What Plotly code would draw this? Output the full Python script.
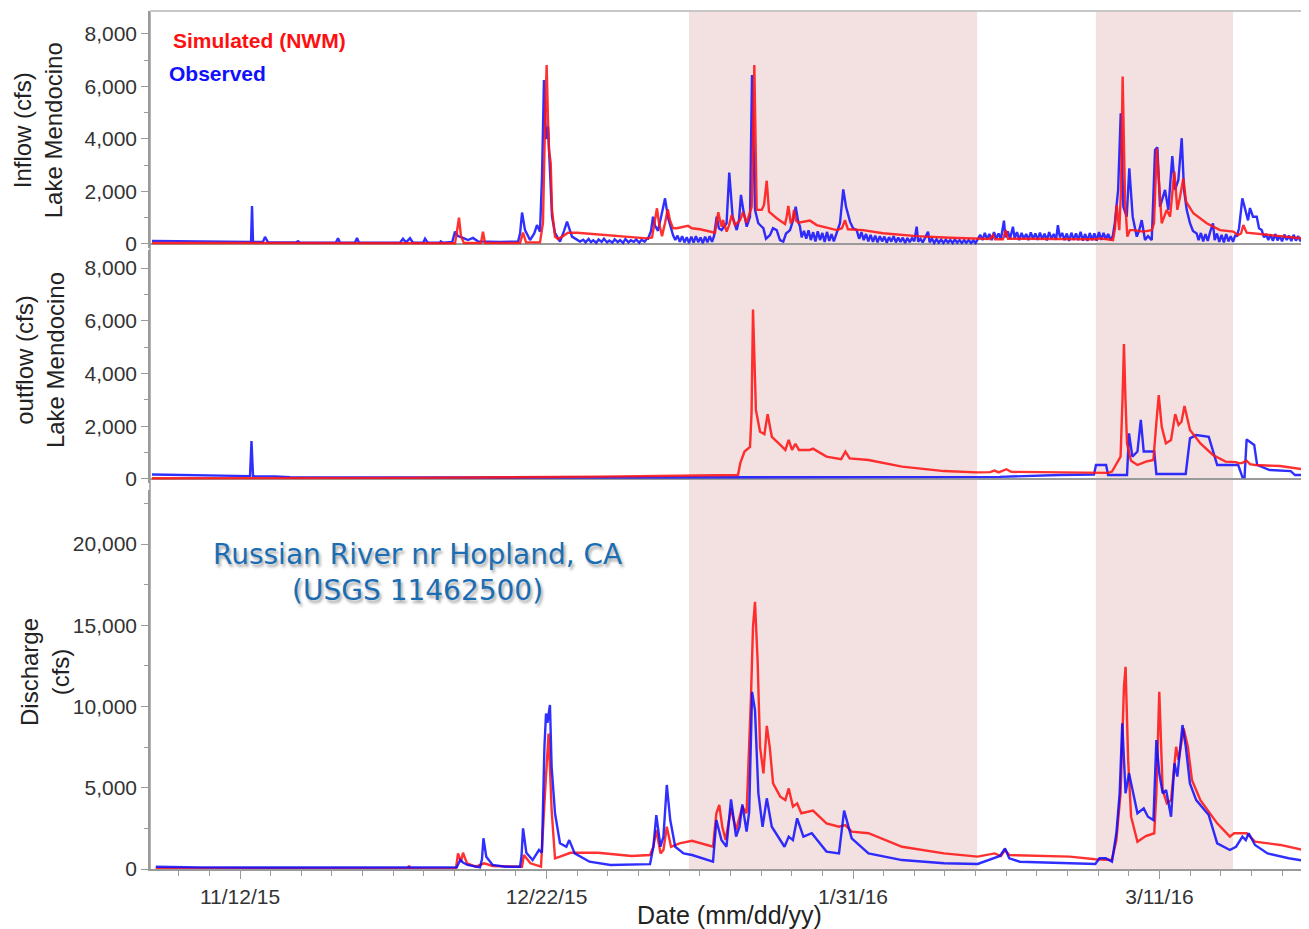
import plotly.graph_objects as go
import pandas as pd

# ---------------- data (time = days since 2015-11-01, flow in cfs) ----------------
BASE = pd.Timestamp("2015-11-01")

TICK_DAYS = [11, 51, 91, 131]
TICK_TEXT = ["11/12/15", "12/22/15", "1/31/16", "3/11/16"]
X_RANGE_DAYS = [-0.745, 150.51]
SHADE_START = [69.6, 122.7]
SHADE_END = [107.2, 140.6]

# Panel 1: Lake Mendocino inflow (observed, noisy gauge record)
INF_OBS_DAY = [
    -0.48, 5.78, 12.05, 12.44, 12.57, 12.70, 14.0, 14.26, 14.66, 18.3, 18.57, 18.83, 23.5, 23.79, 24.05,
    26.0, 26.27, 26.53, 31.88, 32.27, 32.67, 33.19, 33.58, 34.9, 35.15, 35.5, 37.1, 37.2, 37.5, 38.7,
    39.06, 39.45, 40.1, 40.75, 41.4, 42.05, 44.92, 47.3, 47.55, 47.81, 48.2, 48.85, 49.4, 49.76, 50.15,
    50.41, 50.67, 50.93, 51.2, 51.46, 51.72, 52.11, 52.76, 53.29, 53.68, 54.33, 55.37,
    55.8, 56.1, 56.5, 56.8, 57.1, 57.5, 57.8, 58.2, 58.5, 58.9, 59.2, 59.6, 59.9, 60.3, 60.6, 61.0,
    61.3, 61.7, 62.0, 62.4, 62.7, 63.1, 63.4, 63.8, 64.1, 64.25,
    64.64, 64.9, 65.16, 65.55, 66.08, 66.47, 66.86, 67.51,
    67.8, 68.1, 68.4, 68.7, 69.0, 69.3, 69.6, 69.9, 70.2, 70.5, 70.8, 71.1, 71.4, 71.7, 72.0, 72.3,
    72.6, 72.86,
    73.21, 73.5, 73.85, 74.5, 74.85, 75.29, 75.82, 76.12, 76.38, 76.68, 77.13, 77.56, 77.82, 78.21, 78.64,
    79.3, 79.65, 80.17, 80.56, 81.04, 81.47, 81.9, 82.26, 82.78, 83.17, 83.52, 83.82, 84.08,
    84.3, 84.6, 84.9, 85.2, 85.5, 85.8, 86.1, 86.4, 86.7, 87.0, 87.3, 87.6, 87.9, 88.2, 88.5, 88.87,
    89.3, 89.73, 90.09, 90.61, 91.0, 91.48,
    91.8, 92.1, 92.4, 92.7, 93.0, 93.3, 93.6, 93.9, 94.2, 94.5, 94.8, 95.1, 95.4, 95.7, 96.0, 96.3,
    96.6, 96.9, 97.2, 97.5, 97.8, 98.1, 98.4, 98.7, 99.0, 99.31, 99.5, 99.8, 100.1, 100.4, 100.79,
    101.0, 101.3, 101.6, 101.9, 102.2, 102.5, 102.8, 103.1, 103.4, 103.7, 104.0, 104.3, 104.6, 104.9,
    105.2, 105.5, 105.8, 106.1, 106.4, 106.7, 107.0,
    107.3, 107.6, 107.9, 108.2, 108.5, 108.8, 109.1, 109.4, 109.7, 110.0, 110.3, 110.7, 110.9, 111.2,
    111.5, 111.87, 112.1, 112.4, 112.7, 113.0, 113.3, 113.6, 113.9, 114.2, 114.5, 114.8, 115.1, 115.4,
    115.7, 116.0, 116.3, 116.6, 116.9, 117.2, 117.5, 117.74, 118.0, 118.3, 118.6, 118.9, 119.2, 119.5,
    119.8, 120.1, 120.4, 120.7, 121.0, 121.3, 121.6, 121.9, 122.2, 122.5, 122.8, 123.1, 123.4, 123.7,
    124.0, 124.3, 124.6, 124.9,
    125.17, 125.6, 125.94, 126.28, 126.72, 127.06, 127.5, 128.03, 128.33, 128.68, 129.11,
    129.5, 129.99, 130.42, 130.72, 131.07, 131.72, 132.15, 132.67, 133.03, 133.46, 133.9, 134.2,
    134.55, 134.98, 135.37, 135.85,
    136.1, 136.4, 136.7, 137.0, 137.3, 137.6, 137.98, 138.2, 138.5, 138.8, 139.1, 139.4, 139.7, 140.0,
    140.3, 140.6, 140.9, 141.08,
    141.38, 141.81, 142.25, 142.55, 142.81, 143.2, 143.69, 143.99, 144.34, 144.64,
    144.9, 145.2, 145.5, 145.8, 146.1, 146.4, 146.7, 147.0, 147.3, 147.6, 147.9, 148.2, 148.5, 148.8,
    149.1, 149.4, 149.7, 150.0, 150.3, 150.64]
INF_OBS_CFS = [
    120, 100, 80, 80, 1450, 80, 80, 270, 60, 60, 110, 50, 50, 220, 50,
    50, 230, 50, 50, 200, 60, 220, 50, 50, 200, 50, 50, 100, 50, 80,
    470, 300, 230, 150, 230, 100, 80, 100, 400, 1200, 530, 150, 400, 720, 470,
    2500, 6250, 4000, 4470, 2500, 1040, 420, 90, 500, 850, 280, 90,
    160, 60, 190, 70, 140, 50, 170, 80, 200, 60, 130, 50, 180, 70, 150, 40,
    190, 60, 140, 80, 170, 50, 160, 90, 200, 200,
    500, 1040, 700, 500, 1200, 1740, 1000, 340,
    150, 320, 80, 300, 60, 260, 40, 280, 50, 300, 70, 250, 30, 280, 60, 300,
    80, 300,
    1040, 600, 530, 790, 2720, 1040, 530, 900, 1870, 1300, 660, 1040, 6440, 1300, 790,
    600, 200, 340, 600, 530, 150, 90, 400, 530, 900, 1420, 900, 660,
    250, 500, 200, 520, 150, 450, 100, 480, 150, 420, 80, 460, 120, 380, 100, 400,
    790, 2080, 1420, 850, 600, 530,
    200, 450, 150, 380, 100, 350, 80, 320, 60, 300, 100, 280, 50, 260, 90, 300,
    60, 250, 80, 240, 40, 230, 70, 220, 100, 660, 90, 200, 60, 230, 470,
    60, 200, 40, 180, 50, 170, 40, 160, 60, 150, 40, 170, 50, 150,
    40, 140, 50, 150, 40, 130, 40,
    200, 350, 150, 420, 180, 380, 150, 450, 200, 400, 180, 890, 250, 480,
    200, 660, 220, 450, 150, 420, 200, 380, 150, 440, 200, 400, 160, 430,
    180, 390, 140, 450, 200, 380, 160, 720, 250, 420, 150, 400, 120, 430,
    160, 400, 150, 460, 130, 380, 120, 420, 150, 400, 130, 450, 160, 420,
    180, 380, 150, 300,
    800, 2060, 4980, 1420, 1040, 2880, 1040, 280, 500, 910, 150,
    300, 150, 3580, 3680, 1420, 2060, 1300, 3350, 2060, 2440, 4030, 2060,
    1300, 790, 500, 400,
    150, 420, 100, 380, 120, 450, 790, 150, 400, 80, 350, 60, 380, 100,
    300, 80, 350, 280,
    600, 1740, 1300, 900, 1370, 1040, 1040, 600, 530, 250,
    380, 150, 350, 120, 380, 140, 300, 100, 360, 150, 320, 110, 350, 130,
    300, 100, 330, 140, 280, 150]

INF_SIM_DAY = [-0.48, 18.83, 39.06, 39.32, 39.58, 39.84, 40.23, 42.45, 42.71, 42.97, 47.55, 47.94, 48.33, 50.15,
               50.54, 50.8, 51.02, 51.19, 51.32, 51.55, 51.72, 52.11, 52.5, 53.15, 53.8, 54.98, 57.99, 61.25,
               64.12, 64.77, 65.16, 65.42, 65.68, 66.08, 66.47, 66.82, 67.12, 67.51, 68.0, 68.81, 69.47, 69.99,
               71.03, 72.99, 73.21, 73.42, 73.64, 73.86, 74.03, 74.51, 74.81, 75.17, 75.6, 76.25, 76.64, 77.13,
               77.78, 77.95, 78.12, 78.28, 78.43, 79.09, 79.39, 79.74, 80.04, 81.04, 82.13, 82.32, 82.56, 82.87,
               83.11, 83.3, 83.56, 83.86, 85.39, 86.26, 88.87, 89.56, 89.95, 90.34, 92.3, 94.91, 99.31, 103.67,
               107.18, 108.88, 109.27, 109.53, 110.57, 110.93, 111.23, 116.71, 122.71, 123.23, 124.93, 125.19,
               125.41, 125.75, 125.97, 126.19, 126.5, 126.8, 127.15, 127.58, 128.89, 129.98, 130.28, 130.64,
               130.98, 131.29, 131.94, 132.38, 132.94, 133.33, 133.68, 134.11, 134.47, 135.42, 137.16, 138.9,
               140.63, 141.25, 141.64, 141.94, 142.38, 146.73, 150.64]
INF_SIM_CFS = [40, 30, 30, 500, 1000, 300, 40, 40, 470, 40, 40, 430, 60, 60,
               800, 4500, 6820, 4800, 3580, 3080, 1300, 280, 190, 300, 430, 430, 360, 290,
               215, 250, 900, 1360, 800, 300, 800, 1320, 900, 600, 600, 650, 690, 600,
               560, 430, 800, 1210, 900, 660, 910, 470, 700, 1100, 720, 900, 1210, 810,
               1420, 4000, 6820, 4000, 1300, 1300, 1490, 2410, 1230, 980, 760, 1000, 1450, 790,
               900, 1300, 900, 810, 890, 720, 530, 600, 910, 560, 530, 410, 300, 240,
               200, 190, 340, 180, 180, 530, 200, 180, 180, 215, 150, 600,
               1490, 530, 2000, 6380, 1680, 280, 530, 530, 470, 530, 790, 3640,
               1930, 790, 1300, 1040, 2760, 1300, 1800, 2500, 1610, 1170, 790, 530,
               470, 340, 400, 720, 430, 300, 180]

# Panel 2: Lake Mendocino outflow
OUT_OBS_DAY = [-0.48, 5.78, 12.31, 12.5, 12.7, 15.57, 17.53, 44.92, 76.25, 90.61, 110.18, 118.0, 122.45, 122.71,
               124.03, 124.29, 126.76, 127.02, 127.46, 128.12, 128.39, 128.56, 128.94, 130.31, 130.59, 134.42,
               134.98, 135.79, 137.43, 137.98, 138.53, 141.27, 141.82, 142.1, 142.37, 143.36, 143.74, 145.38,
               148.12, 148.68, 150.64]
OUT_OBS_CFS = [170, 140, 110, 1440, 110, 100, 70, 55, 55, 65, 80, 150, 170, 530,
               530, 150, 150, 1730, 850, 1040, 1800, 2240, 1040, 1040, 190, 190,
               1540, 1670, 1600, 1040, 530, 530, 70, 70, 1500, 1290, 530, 340,
               300, 150, 150]

OUT_SIM_DAY = [-0.48, 31.88, 57.99, 71.03, 75.99, 76.29, 76.84, 77.56, 77.76, 77.95, 78.15, 78.33, 78.87, 79.43,
               79.86, 80.41, 81.51, 82.17, 82.61, 83.04, 83.48, 83.95, 85.35, 85.78, 87.54, 89.46, 90.01, 90.56,
               93.02, 97.4, 102.87, 107.12, 108.88, 109.47, 110.02, 111.0, 111.66, 119.3, 124.29, 124.8, 125.37,
               125.92, 126.17, 126.36, 126.56, 126.76, 127.28, 128.12, 129.22, 130.2, 130.58, 130.9, 131.29,
               131.84, 132.5, 133.05, 133.49, 133.87, 134.26, 134.98, 136.34, 137.98, 139.62, 140.99, 141.25,
               141.77, 142.37, 142.81, 143.47, 146.73, 150.64]
OUT_SIM_CFS = [30, 40, 90, 130, 150, 600, 1040, 1220, 2500, 6430, 4500, 2620, 1790, 1700,
               2460, 1600, 1290, 1100, 1480, 1100, 1330, 1100, 1100, 1150, 850, 750, 1040, 780,
               720, 470, 300, 250, 260, 320, 250, 370, 270, 250, 230, 280, 600,
               850, 3000, 5120, 3000, 1350, 690, 530, 660, 720, 2110, 3180, 1980,
               1350, 1480, 2460, 2050, 2170, 2770, 1860, 1350, 910, 660, 640, 600,
               600, 690, 560, 530, 490, 330]

# Panel 3: Russian River nr Hopland discharge
DIS_OBS_DAY = [0.01, 5.78, 18.83, 39.29, 39.74, 40.1, 40.68, 42.32, 42.58, 42.77, 43.14, 43.97, 45.62, 47.54,
               47.74, 47.94, 48.37, 49.19, 50.02, 50.4, 50.73, 50.94, 51.12, 51.45, 51.67, 52.11, 52.76, 53.59,
               53.97, 54.68, 56.61, 59.35, 64.51, 64.95, 65.33, 65.88, 66.26, 66.7, 67.15, 67.8, 68.89, 69.99,
               72.73, 73.17, 73.83, 74.49, 75.08, 75.74, 76.19, 76.56, 77.11, 77.45, 77.83, 78.21, 78.65, 79.2,
               79.75, 80.4, 82.06, 82.61, 83.16, 83.71, 84.53, 85.62, 87.54, 89.17, 89.56, 89.84, 90.83, 93.02,
               97.4, 102.87, 107.27, 109.47, 110.18, 110.84, 111.39, 112.76, 119.3, 122.62, 123.17, 123.99,
               124.79, 125.37, 125.8, 126.14, 126.57, 127.02, 127.57, 128.12, 128.94, 129.49, 130.21, 130.59,
               130.97, 131.42, 131.86, 132.51, 132.95, 133.33, 134.0, 134.43, 134.97, 135.79, 137.43, 138.53,
               140.18, 140.99, 141.82, 142.26, 142.64, 143.46, 145.1, 147.86, 150.64]
DIS_OBS_CFS = [140, 100, 90, 100, 550, 400, 250, 100, 600, 1890, 760, 250, 140, 140,
               800, 2500, 1000, 550, 1170, 1000, 7520, 9570, 9000, 10090, 6290, 3430, 1580, 1370,
               1780, 960, 450, 250, 300, 1370, 3320, 1370, 1990, 5170, 3010, 1370, 960, 860,
               450, 3010, 1780, 1370, 4290, 1990, 2600, 3980, 2300, 3500, 10900, 9780, 4660, 2600,
               4350, 2600, 1370, 1990, 1780, 3120, 1990, 2200, 1070, 960, 2500, 3590, 1890, 960,
               550, 350, 310, 660, 800, 1270, 660, 450, 350, 310, 660, 660,
               450, 2200, 4660, 8960, 4660, 5890, 4660, 3430, 3730, 3220, 3010, 7930,
               5890, 4660, 4860, 3220, 6500, 5690, 8860, 7520, 5270, 4240, 3320, 1580,
               1170, 1370, 1990, 1780, 2200, 1480, 960, 660, 450]

DIS_SIM_DAY = [0.01, 18.83, 32.93, 33.06, 33.19, 39.19, 39.45, 39.84, 40.1, 40.63, 41.77, 42.87, 43.97, 47.8,
               48.06, 48.9, 50.28, 50.8, 51.27, 51.67, 52.11, 52.76, 54.13, 57.71, 62.11, 64.51, 64.95, 65.33,
               65.88, 66.26, 66.7, 67.25, 68.35, 69.99, 72.73, 73.17, 73.55, 73.94, 74.37, 75.08, 75.74, 76.56,
               77.11, 77.67, 77.95, 78.21, 78.55, 78.87, 79.31, 79.75, 80.13, 80.57, 81.51, 82.17, 82.61, 83.16,
               83.71, 84.25, 85.78, 87.54, 89.17, 90.0, 90.83, 93.02, 97.4, 102.87, 107.27, 109.47, 110.3,
               110.84, 111.39, 119.3, 122.62, 124.79, 125.37, 125.92, 126.36, 126.57, 126.91, 127.29, 128.12,
               129.22, 130.31, 130.59, 130.97, 131.41, 131.96, 132.51, 133.17, 133.5, 134.15, 134.7, 135.24,
               136.34, 138.53, 140.18, 140.73, 142.37, 143.46, 146.77, 150.64]
DIS_SIM_CFS = [50, 40, 40, 200, 40, 50, 960, 450, 1000, 350, 140, 350, 185, 140,
               860, 350, 140, 4650, 8340, 3630, 660, 760, 1000, 1000, 800, 860, 1370, 2400,
               960, 1170, 2600, 1370, 1580, 1740, 1370, 3430, 3940, 2600, 1780, 3730, 2400, 3840,
               3430, 10390, 14900, 16440, 12850, 7520, 5890, 8810, 7520, 5270, 4450, 4240, 4960, 3840,
               4040, 3430, 3590, 2810, 2600, 2700, 2300, 2200, 1370, 960, 760, 960, 800,
               1170, 860, 760, 600, 550, 1780, 4660, 11210, 12440, 6700, 3220, 1680,
               2030, 2200, 4660, 10900, 4860, 4040, 4240, 7520, 6700, 8650, 7520, 5470,
               4240, 2810, 1990, 2200, 2200, 1680, 1480, 1070]


def to_time(days):
    return [BASE + pd.Timedelta(days=float(d)) for d in days]


RED = "rgba(255,20,20,0.88)"
BLUE = "rgba(10,10,255,0.85)"
GRAY = "#9a9a9a"
FONT = "Liberation Sans"

fig = go.Figure()

# panel 1 (top): x3/y3
fig.add_trace(go.Scatter(x=to_time(INF_OBS_DAY), y=INF_OBS_CFS, mode="lines",
                         line=dict(color=BLUE, width=2.4), xaxis="x3", yaxis="y3", showlegend=False))
fig.add_trace(go.Scatter(x=to_time(INF_SIM_DAY), y=INF_SIM_CFS, mode="lines",
                         line=dict(color=RED, width=2.4), xaxis="x3", yaxis="y3", showlegend=False))
# panel 2 (middle): x2/y2
fig.add_trace(go.Scatter(x=to_time(OUT_OBS_DAY), y=OUT_OBS_CFS, mode="lines",
                         line=dict(color=BLUE, width=2.4), xaxis="x2", yaxis="y2", showlegend=False))
fig.add_trace(go.Scatter(x=to_time(OUT_SIM_DAY), y=OUT_SIM_CFS, mode="lines",
                         line=dict(color=RED, width=2.4), xaxis="x2", yaxis="y2", showlegend=False))
# panel 3 (bottom): x/y
fig.add_trace(go.Scatter(x=to_time(DIS_SIM_DAY), y=DIS_SIM_CFS, mode="lines",
                         line=dict(color=RED, width=2.4), xaxis="x", yaxis="y", showlegend=False))
fig.add_trace(go.Scatter(x=to_time(DIS_OBS_DAY), y=DIS_OBS_CFS, mode="lines",
                         line=dict(color=BLUE, width=2.4), xaxis="x", yaxis="y", showlegend=False))

x_range = to_time(X_RANGE_DAYS)
tick_font = dict(family=FONT, size=21, color="#333333")
title_font = dict(family=FONT, size=24, color="#222222")

common_y = dict(showgrid=False, showline=True, linecolor=GRAY, linewidth=1.5, ticks="outside",
                ticklen=7, tickcolor=GRAY, tickwidth=1.2, tickformat=",d", tickfont=tick_font,
                zeroline=False)

shapes = []
for s, e in zip(SHADE_START, SHADE_END):
    t0, t1 = to_time([s, e])
    shapes.append(dict(type="rect", xref="x", yref="paper", x0=t0, x1=t1, y0=0, y1=1,
                       fillcolor="#f3e1e1", line=dict(width=0), layer="below"))
# zero lines in upper panels
shapes.append(dict(type="line", xref="paper", yref="y3", x0=0, x1=1, y0=0, y1=0,
                   line=dict(color=GRAY, width=2), layer="below"))
shapes.append(dict(type="line", xref="paper", yref="y2", x0=0, x1=1, y0=0, y1=0,
                   line=dict(color=GRAY, width=2), layer="below"))
# continuous left axis and top border
shapes.append(dict(type="line", xref="paper", yref="paper", x0=0, x1=0, y0=0, y1=1,
                   line=dict(color=GRAY, width=1.5)))
shapes.append(dict(type="line", xref="paper", yref="paper", x0=0, x1=1, y0=1, y1=1,
                   line=dict(color="#c8c8c8", width=2)))

annotations = [
    dict(text="<b>Simulated (NWM)</b>", xref="paper", yref="paper", x=0.0185, y=0.9662,
         xanchor="left", yanchor="middle", showarrow=False,
         font=dict(family=FONT, size=21, color="#ff1010")),
    dict(text="<b>Observed</b>", xref="paper", yref="paper", x=0.0145, y=0.9277,
         xanchor="left", yanchor="middle", showarrow=False,
         font=dict(family=FONT, size=21, color="#1010ff")),
    dict(text="Inflow (cfs)<br>Lake Mendocino", xref="paper", yref="paper", x=-0.0966, y=0.861,
         textangle=-90, showarrow=False, xanchor="center", yanchor="middle", font=title_font),
    dict(text="outflow (cfs)<br>Lake Mendocino", xref="paper", yref="paper", x=-0.0950, y=0.593,
         textangle=-90, showarrow=False, xanchor="center", yanchor="middle", font=title_font),
    dict(text="Discharge<br>(cfs)", xref="paper", yref="paper", x=-0.0906, y=0.2296,
         textangle=-90, showarrow=False, xanchor="center", yanchor="middle", font=title_font),
    dict(text="Russian River nr Hopland, CA<br>(USGS 11462500)", xref="paper", yref="paper",
         x=0.2304, y=0.345, showarrow=False, xanchor="center", yanchor="middle",
         font=dict(family="DejaVu Sans", size=28, color="#1a6db3",
                   shadow="2px 3px 3px rgba(0,0,0,0.35)")),
]

# The page body adds an 8 px offset, so the figure is 8 px smaller than the window.
fig.update_layout(
    width=1301, height=921,
    margin=dict(l=142, r=0, t=3, b=60),
    paper_bgcolor="white", plot_bgcolor="rgba(0,0,0,0)",
    showlegend=False,
    xaxis=dict(domain=[0, 1], anchor="y", type="date", range=x_range, showgrid=False,
               tickmode="array", tickvals=to_time(TICK_DAYS), ticktext=TICK_TEXT,
               ticks="outside", ticklen=8, tickcolor=GRAY, tickwidth=1.2, tickfont=tick_font,
               showline=True, linecolor=GRAY, linewidth=2, zeroline=False,
               minor=dict(ticks="outside", ticklen=5, tickcolor=GRAY, tickwidth=1,
                          tickmode="linear", tick0=to_time([11])[0], dtick=4 * 86400000),
               title=dict(text="Date (mm/dd/yy)", font=dict(family=FONT, size=25, color="#222222"),
                          standoff=2)),
    xaxis2=dict(matches="x", anchor="y2", type="date", range=x_range, showgrid=False,
                showticklabels=False, ticks="", showline=False, zeroline=False),
    xaxis3=dict(matches="x", anchor="y3", type="date", range=x_range, showgrid=False,
                showticklabels=False, ticks="", showline=False, zeroline=False),
    yaxis=dict(domain=[0, 0.4417], range=[0, 23323], tickmode="array",
               tickvals=[0, 5000, 10000, 15000, 20000],
               minor=dict(ticks="outside", ticklen=4, tickcolor=GRAY, dtick=2500, tick0=0),
               **common_y),
    yaxis2=dict(domain=[0.4499, 0.7214], range=[-152, 8682], tickmode="array",
                tickvals=[0, 2000, 4000, 6000, 8000],
                minor=dict(ticks="outside", ticklen=4, tickcolor=GRAY, dtick=1000, tick0=0),
                **common_y),
    yaxis3=dict(domain=[0.7238, 1.0], range=[-152, 8876], tickmode="array",
                tickvals=[0, 2000, 4000, 6000, 8000],
                minor=dict(ticks="outside", ticklen=4, tickcolor=GRAY, dtick=1000, tick0=0),
                **common_y),
    shapes=shapes,
    annotations=annotations,
)

fig.write_html("out.html")
